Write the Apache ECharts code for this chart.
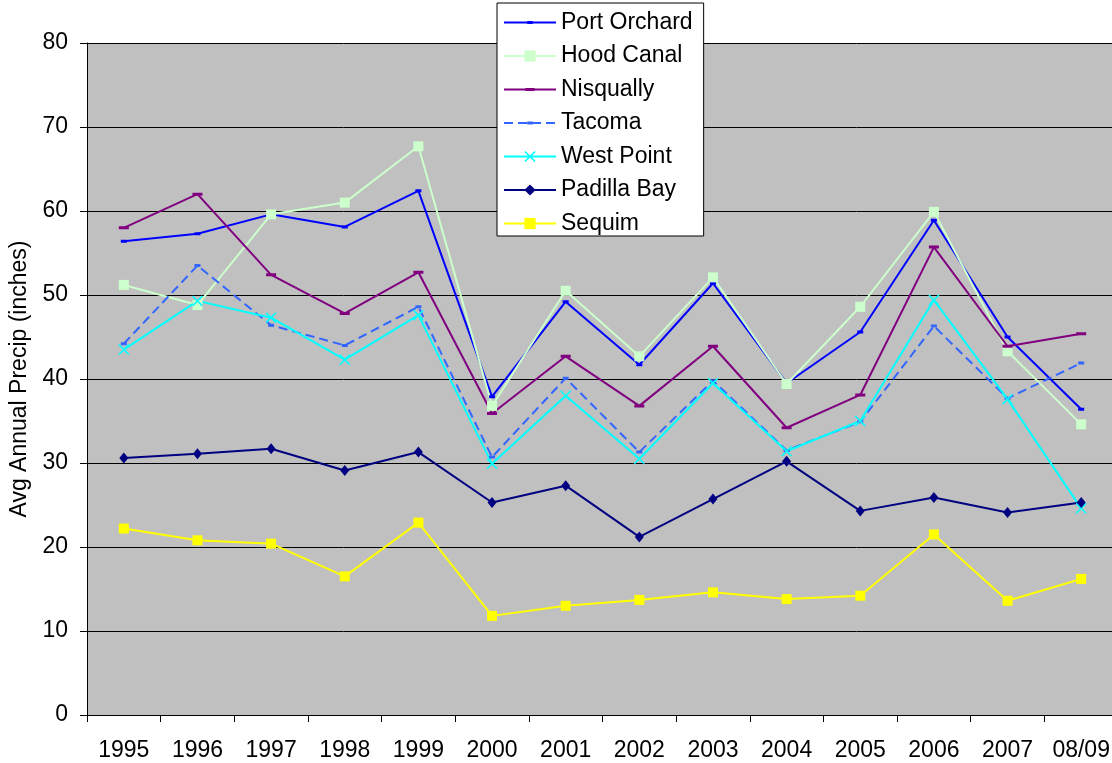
<!DOCTYPE html>
<html>
<head>
<meta charset="utf-8">
<script src="https://cdn.jsdelivr.net/npm/echarts@6/dist/echarts.min.js"></script>
<style>
  html, body { margin: 0; padding: 0; background: #fff; }
  #chart { width: 1112px; height: 763px; }
</style>
</head>
<body>
<div id="chart"></div>
<script>
// Average annual precipitation (inches) by station
const categories = ['1995', '1996', '1997', '1998', '1999', '2000', '2001', '2002', '2003', '2004', '2005', '2006', '2007', '08/09'];
const yTicks = [0, 10, 20, 30, 40, 50, 60, 70, 80];

const portOrchard = [56.4, 57.3, 59.6, 58.1, 62.4, 37.9, 49.2, 41.7, 51.4, 39.5, 45.6, 58.9, 45.0, 36.4];
const hoodCanal   = [51.2, 48.8, 59.6, 61.0, 67.7, 36.8, 50.5, 42.7, 52.1, 39.4, 48.6, 59.9, 43.3, 34.6];
const nisqually   = [58.0, 62.0, 52.4, 47.8, 52.7, 35.9, 42.7, 36.8, 43.9, 34.2, 38.1, 55.7, 43.9, 45.4];
const tacoma      = [44.2, 53.5, 46.4, 44.0, 48.6, 30.7, 40.1, 31.3, 39.8, 31.5, 34.9, 46.3, 37.7, 41.9];
const westPoint   = [43.5, 49.3, 47.3, 42.3, 47.6, 29.9, 38.0, 30.5, 39.5, 31.4, 35.0, 49.4, 37.6, 24.6];
const padillaBay  = [30.6, 31.1, 31.7, 29.1, 31.3, 25.3, 27.3, 21.2, 25.7, 30.2, 24.3, 25.9, 24.1, 25.3];
const sequim      = [22.2, 20.8, 20.4, 16.5, 22.9, 11.8, 13.0, 13.7, 14.6, 13.8, 14.2, 21.5, 13.6, 16.2];

const FONT = '"Liberation Sans", Arial, sans-serif';

// Dash-shaped markers inside a square box (tiny corner points fix the box size),
// so the legend icon keeps the same small dash proportions.
const smallDash = 'path://M0,0L0.01,0L0,0.01Z M12,12L11.99,12L12,11.99Z M3,4.5L9,4.5L9,7.5L3,7.5Z';
const wideDash  = 'path://M0,0L0.01,0L0,0.01Z M12,12L11.99,12L12,11.99Z M1,4.5L11,4.5L11,7.5L1,7.5Z';
const crossMark = 'path://M0,1L1,0L5,4L9,0L10,1L6,5L10,9L9,10L5,6L1,10L0,9L4,5Z';

function lineSeries(name, data, color, symbol, size, width, dashed) {
  return {
    name: name,
    type: 'line',
    data: data,
    symbol: symbol,
    symbolSize: size,
    symbolKeepAspect: true,
    showAllSymbol: true,
    color: color,
    itemStyle: { color: color, borderWidth: 0 },
    lineStyle: { color: color, width: width, type: dashed ? [9, 5] : 'solid' },
    emphasis: { disabled: true }
  };
}

const chart = echarts.init(document.getElementById('chart'), null, { renderer: 'canvas' });
chart.setOption({
  animation: false,
  backgroundColor: '#ffffff',
  textStyle: { fontFamily: FONT },
  grid: {
    left: 87, right: -6, top: 43, bottom: 48,
    outerBoundsMode: 'none',
    containLabel: false,
    show: true, backgroundColor: '#C0C0C0', borderWidth: 0
  },
  legend: {
    left: 497, top: 3,
    orient: 'vertical',
    backgroundColor: '#ffffff',
    borderColor: '#000000',
    borderWidth: 1,
    borderRadius: 0,
    padding: [8, 11, 1, 6],
    itemWidth: 52,
    itemHeight: 14,
    itemGap: 10.5,
    textStyle: { fontFamily: FONT, fontSize: 23, color: '#000' },
    data: ['Port Orchard', 'Hood Canal', 'Nisqually', 'Tacoma', 'West Point', 'Padilla Bay', 'Sequim']
  },
  xAxis: {
    type: 'category',
    data: categories,
    boundaryGap: true,
    axisLine: { lineStyle: { color: '#000', width: 1 } },
    axisTick: { show: true, length: 7, interval: 0, lineStyle: { color: '#000' } },
    axisLabel: { interval: 0, margin: 24, fontSize: 23, color: '#000', fontFamily: FONT },
    splitLine: { show: false }
  },
  yAxis: {
    type: 'value',
    min: yTicks[0], max: yTicks[yTicks.length - 1], interval: 10,
    name: 'Avg Annual Precip (inches)',
    nameLocation: 'middle',
    nameRotate: 90,
    nameGap: 53,
    nameTextStyle: { fontSize: 23, color: '#000', fontFamily: FONT },
    axisLine: { show: true, lineStyle: { color: '#000', width: 1 } },
    axisTick: { show: true, length: 7, lineStyle: { color: '#000' } },
    axisLabel: { margin: 19, fontSize: 23, color: '#000', fontFamily: FONT },
    splitLine: { show: true, lineStyle: { color: '#000', width: 1 } }
  },
  series: [
    lineSeries('Port Orchard', portOrchard, '#0000FF', smallDash, 12, 2, false),
    lineSeries('Hood Canal', hoodCanal, '#CCFFCC', 'rect', 10, 2, false),
    lineSeries('Nisqually', nisqually, '#800080', wideDash, 12, 2, false),
    lineSeries('Tacoma', tacoma, '#3366FF', smallDash, 12, 2, true),
    lineSeries('West Point', westPoint, '#00FFFF', crossMark, 11, 2, false),
    lineSeries('Padilla Bay', padillaBay, '#000080', 'diamond', [9, 11], 2, false),
    lineSeries('Sequim', sequim, '#FFFF00', 'rect', 10, 2, false)
  ]
});
</script>
</body>
</html>
